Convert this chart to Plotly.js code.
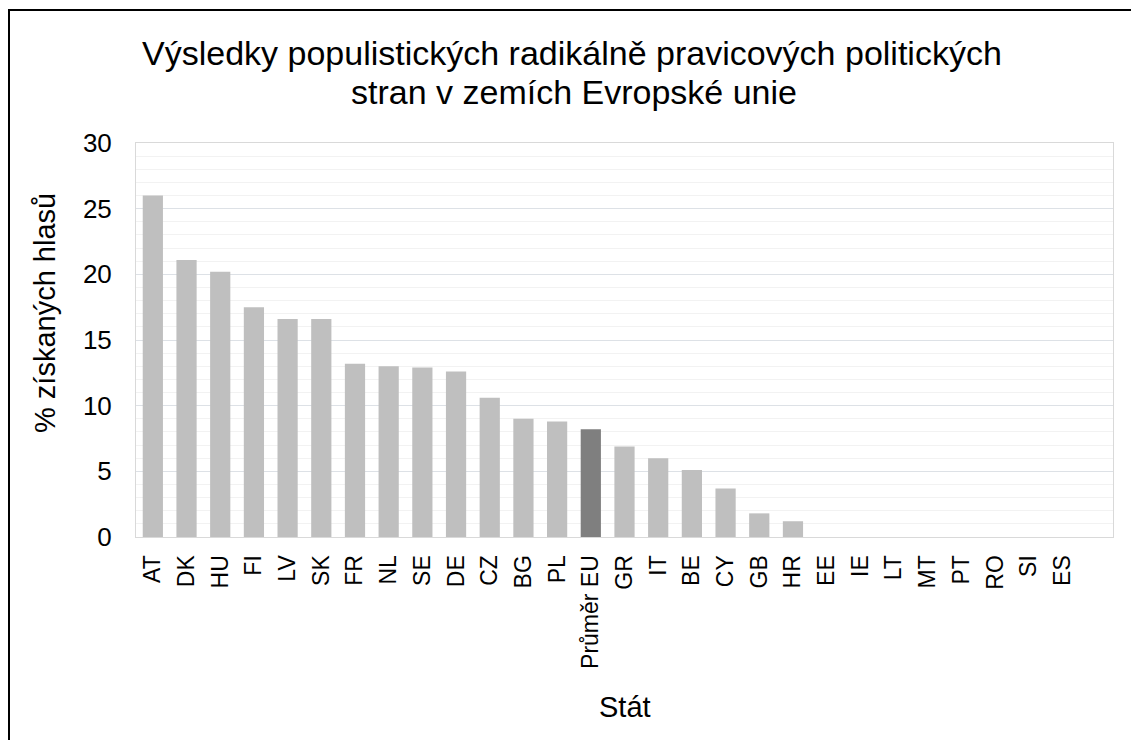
<!DOCTYPE html>
<html>
<head>
<meta charset="utf-8">
<script src="https://cdn.plot.ly/plotly-3.0.1.min.js"></script>
<style>
html, body { margin:0; padding:0; background:#fff; overflow:hidden; }
#frame { position:absolute; left:8px; top:9px; width:1300px; height:900px; border:2px solid #000; box-sizing:border-box; }
#chart { position:absolute; left:0; top:0; width:1131px; height:740px; }
</style>
</head>
<body>
<div id="frame"></div>
<div id="chart"></div>
<script>
const categories = ["AT","DK","HU","FI","LV","SK","FR","NL","SE","DE","CZ","BG","PL","Průměr EU","GR","IT","BE","CY","GB","HR","EE","IE","LT","MT","PT","RO","SI","ES"];
const values = [26.0,21.1,20.2,17.5,16.6,16.6,13.2,13.0,12.9,12.6,10.6,9.0,8.8,8.2,6.9,6.0,5.1,3.7,1.8,1.2,0,0,0,0,0,0,0,0];
const highlight = "Průměr EU";
const titleLines = ["Výsledky populistických radikálně pravicových politických", "stran v zemích Evropské unie"];
const yTitle = "% získaných hlasů";
const xTitle = "Stát";

const colors = categories.map(c => c === highlight ? "#7f7f7f" : "#bfbfbf");

const font = "Liberation Sans, Arial, sans-serif";
const W = 1131, H = 740;
const L = 136, R = 1113, T = 143, B = 537;
const px = x => (x - L) / (R - L);
const py = y => (B - y) / (B - T);

Plotly.newPlot("chart", [{
  type: "bar",
  x: categories,
  y: values,
  marker: { color: colors },
  hoverinfo: "x+y"
}], {
  width: W, height: H,
  paper_bgcolor: "rgba(0,0,0,0)",
  plot_bgcolor: "#fff",
  margin: { l: L, r: W - R, t: T, b: H - B },
  bargap: 0.4,
  showlegend: false,
  font: { family: font, color: "#000" },
  xaxis: {
    type: "category",
    tickangle: -90,
    tickfont: { family: font, size: 23, color: "#000" },
    ticks: "",
    ticklabelstandoff: 8,
    showline: true, linecolor: "#d9d9d9", linewidth: 1, mirror: true,
    showgrid: false,
    range: [-0.5, 28.5]
  },
  yaxis: {
    range: [0, 30],
    dtick: 5,
    tickfont: { family: font, size: 26, color: "#000" },
    ticks: "",
    ticklabelstandoff: 18,
    showline: true, linecolor: "#d9d9d9", linewidth: 1, mirror: true,
    gridcolor: "#dde1e6", gridwidth: 1,
    zeroline: false,
    minor: { dtick: 1, showgrid: true, gridcolor: "#f2f2f2", gridwidth: 1 }
  },
  annotations: [
    { text: titleLines[0], showarrow: false, xref: "paper", yref: "paper",
      x: px(572), y: py(53), xanchor: "center", yanchor: "middle",
      font: { family: font, size: 34, color: "#000" } },
    { text: titleLines[1], showarrow: false, xref: "paper", yref: "paper",
      x: px(574), y: py(92), xanchor: "center", yanchor: "middle",
      font: { family: font, size: 34, color: "#000" } },
    { text: yTitle, textangle: -90, showarrow: false, xref: "paper", yref: "paper",
      x: px(45), y: py(313), xanchor: "center", yanchor: "middle",
      font: { family: font, size: 29, color: "#000" } },
    { text: xTitle, showarrow: false, xref: "paper", yref: "paper",
      x: px(625), y: py(707), xanchor: "center", yanchor: "middle",
      font: { family: font, size: 29, color: "#000" } }
  ]
}, { displayModeBar: false, staticPlot: true });
</script>
</body>
</html>
